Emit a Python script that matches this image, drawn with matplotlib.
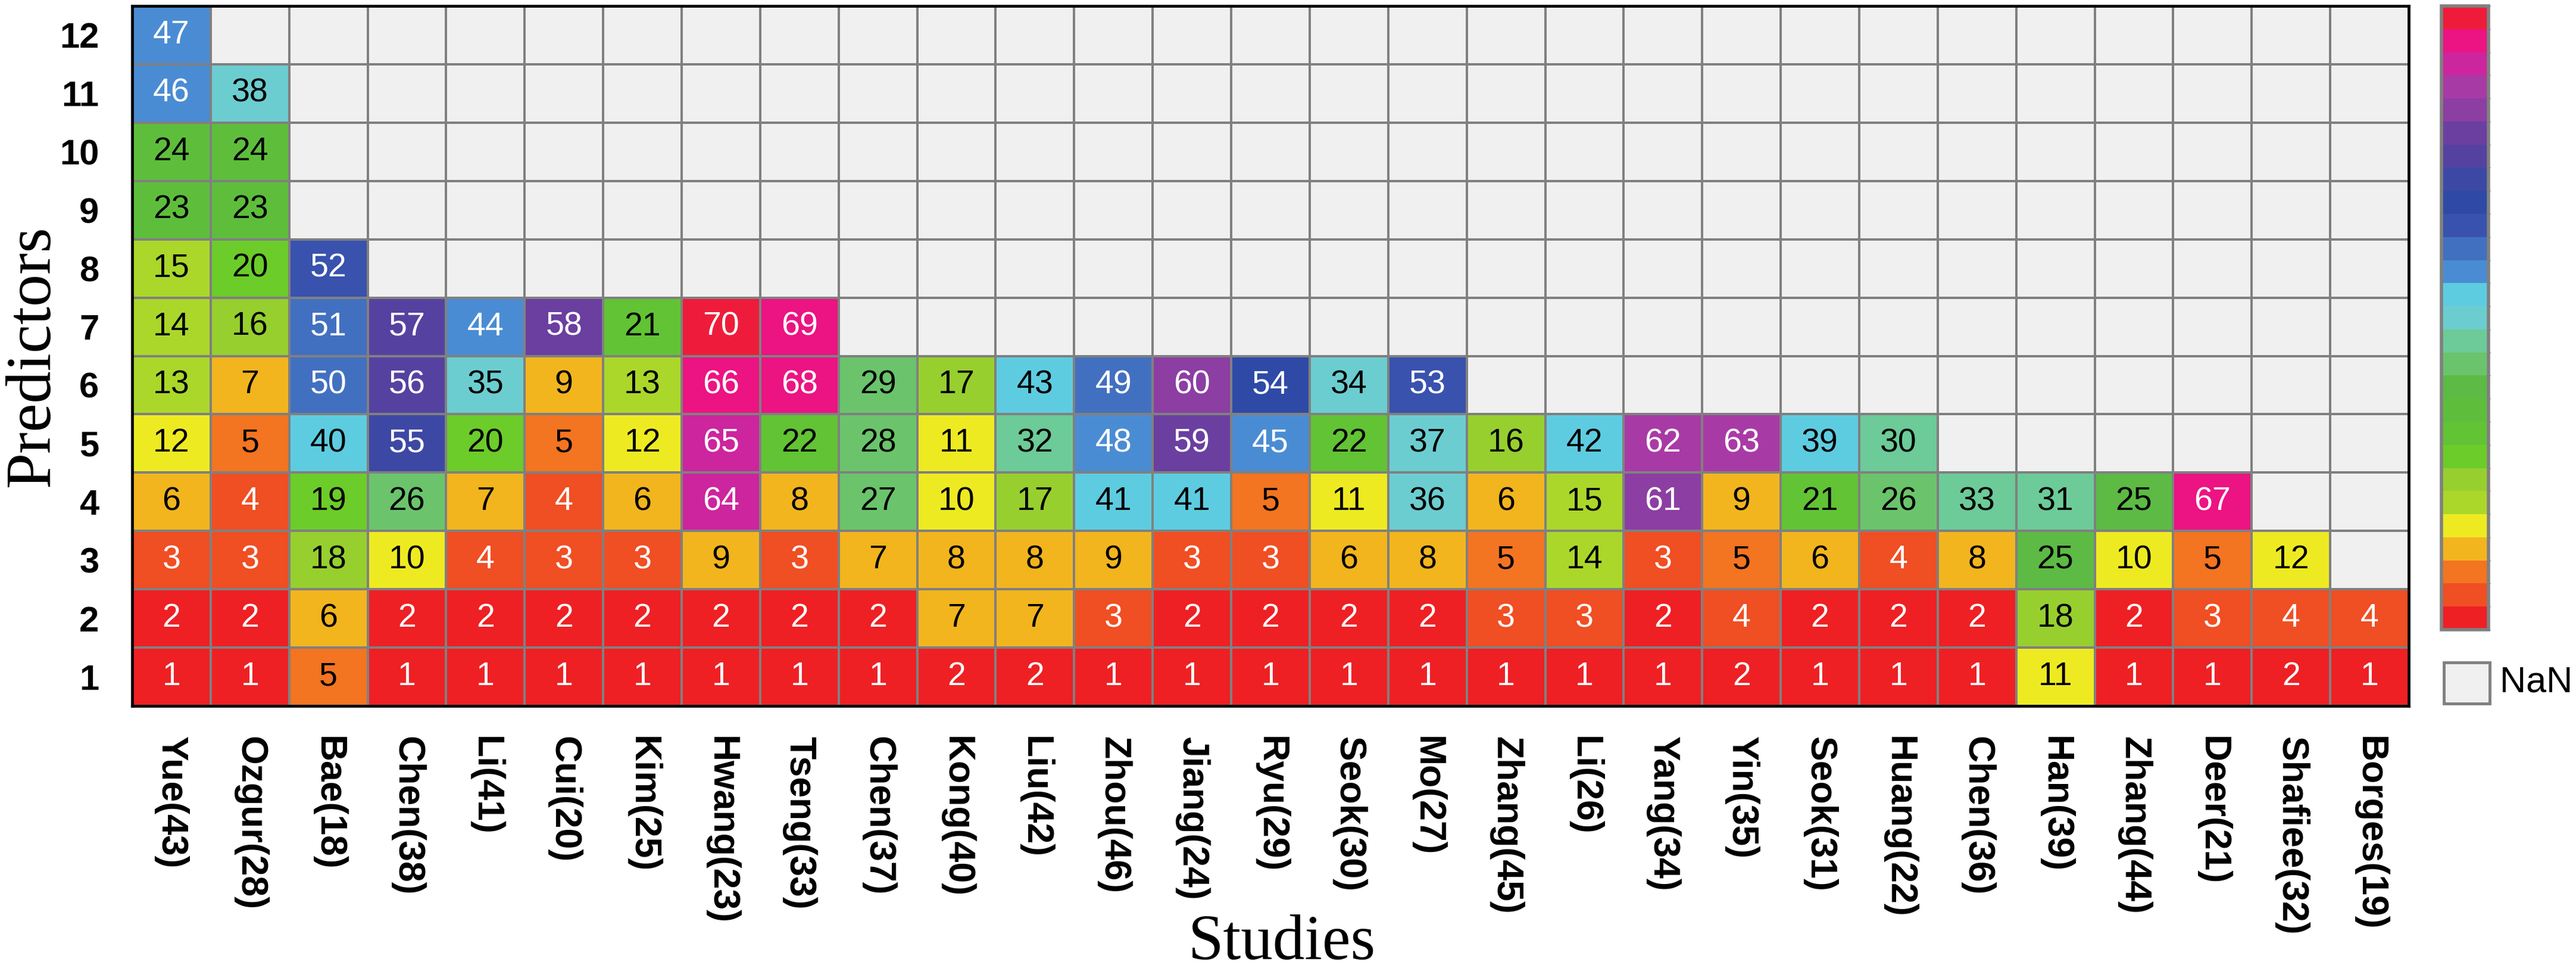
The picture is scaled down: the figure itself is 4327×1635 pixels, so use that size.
import numpy as np
import matplotlib
matplotlib.use("Agg")
import matplotlib.pyplot as plt
from matplotlib.colors import ListedColormap, BoundaryNorm
from matplotlib.patches import Rectangle

# study names along the x axis
studies = ["Yue(43)", "Ozgur(28)", "Bae(18)", "Chen(38)", "Li(41)", "Cui(20)",
           "Kim(25)", "Hwang(23)", "Tseng(33)", "Chen(37)", "Kong(40)", "Liu(42)",
           "Zhou(46)", "Jiang(24)", "Ryu(29)", "Seok(30)", "Mo(27)", "Zhang(45)",
           "Li(26)", "Yang(34)", "Yin(35)", "Seok(31)", "Huang(22)", "Chen(36)",
           "Han(39)", "Zhang(44)", "Deer(21)", "Shafiee(32)", "Borges(19)"]

predictor_labels = [str(i) for i in range(1, 13)]

# cell values per study, from predictor 1 upwards
ranks = [
    [1, 2, 3, 6, 12, 13, 14, 15, 23, 24, 46, 47],
    [1, 2, 3, 4, 5, 7, 16, 20, 23, 24, 38],
    [5, 6, 18, 19, 40, 50, 51, 52],
    [1, 2, 10, 26, 55, 56, 57],
    [1, 2, 4, 7, 20, 35, 44],
    [1, 2, 3, 4, 5, 9, 58],
    [1, 2, 3, 6, 12, 13, 21],
    [1, 2, 9, 64, 65, 66, 70],
    [1, 2, 3, 8, 22, 68, 69],
    [1, 2, 7, 27, 28, 29],
    [2, 7, 8, 10, 11, 17],
    [2, 7, 8, 17, 32, 43],
    [1, 3, 9, 41, 48, 49],
    [1, 2, 3, 41, 59, 60],
    [1, 2, 3, 5, 45, 54],
    [1, 2, 6, 11, 22, 34],
    [1, 2, 8, 36, 37, 53],
    [1, 3, 5, 6, 16],
    [1, 3, 14, 15, 42],
    [1, 2, 3, 61, 62],
    [2, 4, 5, 9, 63],
    [1, 2, 6, 21, 39],
    [1, 2, 4, 26, 30],
    [1, 2, 8, 33],
    [11, 18, 25, 31],
    [1, 2, 10, 25],
    [1, 3, 5, 67],
    [2, 4, 12],
    [1, 4],
]

# colour bands of the scale and the value edges between them
band_colors = ["#EE2024", "#F04E23", "#F37421", "#F2B51E", "#EEEA22", "#ABD72B",
               "#97CF2F", "#6CCC2A", "#62C335", "#5EBE3C", "#5DBA45", "#6BC46B",
               "#6CCB98", "#6CCDD0", "#5ECCE0", "#4A8CD3", "#4270C0", "#3852AE",
               "#2E4AA6", "#3D48A5", "#5542A0", "#6A3FA0", "#8C3EA3", "#A83AA5",
               "#CC259E", "#EC1382", "#EE1C3A"]
band_edges = [0.5, 2.5, 4.5, 5.5, 9.5, 12.5, 15.5, 18.5, 20.5, 22.5, 24.5, 25.5,
              29.5, 33.5, 38.5, 43.5, 48.5, 51.5, 53.5, 54.5, 55.5, 57.5, 59.5,
              61.5, 63.5, 65.5, 69.5, 70.5]

plt.rcParams['font.family'] = ['Liberation Sans', 'DejaVu Sans']

n_rows = len(predictor_labels)
n_cols = len(studies)
heat = np.full((n_rows, n_cols), np.nan)
for col, vals in enumerate(ranks):
    heat[:len(vals), col] = vals
heat = np.ma.masked_invalid(heat)

cmap = ListedColormap(band_colors)
cmap.set_bad('#F0F0F0')
norm = BoundaryNorm(band_edges, cmap.N)

W, H = 4327, 1635
fig = plt.figure(figsize=(W / 100, H / 100), dpi=100)
ax = fig.add_axes([222 / W, 1 - 1185 / H, (4046 - 222) / W, (1185 - 10) / H])

mesh = ax.pcolormesh(np.arange(n_cols + 1), np.arange(n_rows + 1), heat,
                     cmap=cmap, norm=norm, edgecolors='#808080', linewidth=2.6)

# numbers inside the cells
for col, vals in enumerate(ranks):
    for row, v in enumerate(vals):
        color = 'white' if (v <= 4 or v >= 44) else 'black'
        ax.text(col + 0.5, row + 0.5, str(v), ha='center', va='center',
                fontsize=40, color=color)

ax.set_xlim(0, n_cols)
ax.set_ylim(0, n_rows)
ax.set_xticks(np.arange(n_cols) + 0.5)
ax.set_xticklabels(studies, rotation=270, fontsize=45, fontweight='bold')
ax.set_yticks(np.arange(n_rows) + 0.5)
ax.set_yticklabels(predictor_labels, fontsize=43, fontweight='bold')
ax.tick_params(axis='x', length=0, pad=37)
ax.tick_params(axis='y', length=0, pad=40)
for spine in ax.spines.values():
    spine.set_linewidth(3.4)
    spine.set_color('black')

ax.set_xlabel('Studies', family='Liberation Serif', fontsize=77, va='baseline')
ax.xaxis.set_label_coords((2153 - 222) / 3824, -0.362)
ax.set_ylabel('Predictors', family='Liberation Serif', fontsize=78, va='baseline')
ax.yaxis.set_label_coords((82 - 222) / 3824, 0.5)

# colour bar without ticks
cax = fig.add_axes([4101 / W, 1 - 1057 / H, 79 / W, (1057 - 10) / H])
cbar = fig.colorbar(mesh, cax=cax, ticks=[])
cbar.outline.set_edgecolor('#808080')
cbar.outline.set_linewidth(4)
cbar.ax.tick_params(size=0)

# NaN key
fig.patches.append(Rectangle((4105 / W, 1 - 1181 / H), 77 / W, 69 / H,
                             transform=fig.transFigure, facecolor='#F0F0F0',
                             edgecolor='#808080', linewidth=3.5))
fig.text(4199 / W, 1 - 1146 / H, 'NaN', fontsize=44, va='center', ha='left')

fig.savefig('out.png', dpi=100)
